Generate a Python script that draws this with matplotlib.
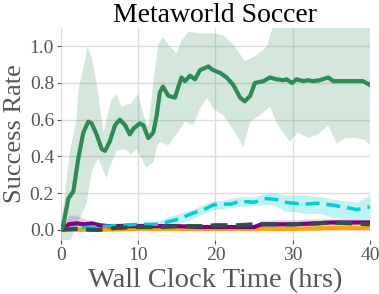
import matplotlib
matplotlib.use("Agg")
import matplotlib.pyplot as plt
import numpy as np

# ── Data ──────────────────────────────────────────────────────────────────────
# Green: mean success rate
green_t = [0.0, 0.3, 0.95, 1.6, 2.24, 2.89, 3.54, 3.97, 4.6, 5.27, 5.7, 6.3, 7.0,
           7.6, 8.3, 8.9, 9.36, 10.2, 10.65, 11.3, 11.95, 12.4, 12.8, 13.2, 13.9,
           14.76, 15.2, 15.6, 16.05, 16.7, 17.35, 18.0, 19.07, 19.7, 20.6, 21.45,
           22.3, 23.2, 23.8, 24.5, 25.1, 26.2, 27.05, 27.9, 28.8, 29.2, 29.9, 30.5,
           31.4, 32.0, 32.65, 33.5, 34.6, 35.25, 36.1, 37.0, 37.8, 39.1, 40.0]
green_mean = [0.0, 0.03, 0.17, 0.21, 0.39, 0.53, 0.59, 0.58, 0.52, 0.44, 0.43,
              0.48, 0.57, 0.60, 0.57, 0.52, 0.55, 0.58, 0.57, 0.50, 0.53, 0.625,
              0.75, 0.78, 0.73, 0.72, 0.78, 0.83, 0.81, 0.84, 0.82, 0.87, 0.89,
              0.87, 0.855, 0.83, 0.79, 0.72, 0.70, 0.73, 0.80, 0.81, 0.83, 0.82,
              0.815, 0.82, 0.80, 0.82, 0.81, 0.815, 0.81, 0.815, 0.83, 0.81, 0.81,
              0.81, 0.81, 0.81, 0.79]
green_up_t = [0.0, 0.5, 1.17, 2.0, 2.24, 3.1, 3.4, 3.97, 4.6, 5.5, 5.9, 6.55, 7.2,
              7.85, 9.1, 10.0, 10.65, 11.3, 11.95, 12.6, 13.2, 14.1, 14.97, 15.6,
              16.5, 18.0, 19.7, 21.0, 22.3, 23.8, 24.9, 26.2, 26.7, 27.3, 28.0, 40.0]
green_up = [0.0, 0.2, 0.43, 0.6, 0.76, 0.92, 1.0, 0.94, 0.8, 0.53, 0.6, 0.71, 0.74,
            0.67, 0.69, 0.74, 0.63, 0.56, 0.8, 1.01, 1.05, 1.0, 0.96, 1.03, 1.08,
            1.07, 1.07, 1.06, 1.01, 0.92, 0.94, 0.98, 1.0, 1.09, 1.15, 1.15]
green_lo_t = [0.0, 1.2, 2.0, 3.3, 4.0, 4.8, 5.9, 6.3, 7.2, 8.3, 9.1, 9.8, 10.9, 11.1,
              12.0, 12.4, 12.8, 13.9, 14.97, 16.05, 17.1, 18.0, 18.9, 19.7, 21.0,
              21.9, 23.0, 23.6, 24.5, 25.8, 27.05, 28.1, 29.6, 30.7, 32.0, 33.3,
              34.6, 35.7, 36.8, 38.1, 39.4, 40.0]
green_lo = [-0.06, -0.06, 0.02, 0.14, 0.32, 0.39, 0.28, 0.34, 0.43, 0.44, 0.41, 0.44,
            0.35, 0.34, 0.37, 0.45, 0.48, 0.46, 0.52, 0.59, 0.57, 0.66, 0.72, 0.66,
            0.625, 0.57, 0.5, 0.45, 0.59, 0.625, 0.67, 0.57, 0.48, 0.53, 0.5, 0.52,
            0.57, 0.47, 0.5, 0.5, 0.49, 0.46]

# Cyan dashed
cyan_t = [0, 2, 4, 6, 8, 10, 12, 12.8, 14, 15.4, 17, 18.5, 19.7, 21, 22, 23.2, 25,
          26.6, 27.9, 29, 30.1, 31.5, 33.5, 35, 36.5, 38.3, 40]
cyan_mean = [0.0, 0.01, 0.015, 0.02, 0.025, 0.03, 0.03, 0.03, 0.045, 0.06, 0.09,
             0.11, 0.135, 0.14, 0.14, 0.155, 0.15, 0.17, 0.165, 0.15, 0.145, 0.14,
             0.145, 0.135, 0.125, 0.11, 0.125]
cyan_up = [0.0, 0.02, 0.03, 0.035, 0.04, 0.04, 0.045, 0.05, 0.07, 0.09, 0.11, 0.14,
           0.16, 0.16, 0.17, 0.18, 0.18, 0.2, 0.2, 0.19, 0.19, 0.19, 0.18, 0.17,
           0.16, 0.15, 0.19]
cyan_lo = [0.0, 0.0, 0.005, 0.01, 0.015, 0.02, 0.02, 0.015, 0.025, 0.035, 0.06, 0.09,
           0.11, 0.115, 0.12, 0.13, 0.13, 0.14, 0.13, 0.1, 0.1, 0.09, 0.09, 0.07,
           0.06, 0.06, 0.06]

# Purple solid
purple_t = [0, 0.5, 1, 2, 3, 4, 5, 6, 8, 10, 12, 15, 18, 20, 23, 25, 26, 28, 30, 33,
            35, 38, 40]
purple_mean = [0.0, 0.01, 0.03, 0.035, 0.03, 0.035, 0.025, 0.02, 0.02, 0.02, 0.02,
               0.02, 0.015, 0.015, 0.015, 0.015, 0.03, 0.03, 0.03, 0.035, 0.04, 0.04,
               0.04]
purple_up = [0.0, 0.04, 0.08, 0.08, 0.06, 0.05, 0.04, 0.035, 0.03, 0.03, 0.03, 0.03,
             0.025, 0.025, 0.025, 0.03, 0.05, 0.055, 0.055, 0.06, 0.06, 0.06, 0.06]
purple_lo = [0.0, 0.0, 0.0, 0.0, 0.005, 0.01, 0.01, 0.01, 0.01, 0.01, 0.01, 0.01,
             0.005, 0.005, 0.005, 0.005, 0.01, 0.01, 0.01, 0.015, 0.02, 0.02, 0.02]

# Dark slate dashed
slate_t = [0, 2, 4, 5, 7, 10, 13, 15, 18, 20, 23, 25, 28, 30, 33, 35, 38, 40]
slate_mean = [0.0, 0.005, 0.0, 0.0, 0.01, 0.015, 0.015, 0.02, 0.02, 0.025, 0.025,
              0.03, 0.03, 0.03, 0.035, 0.04, 0.035, 0.03]

# Orange solid
orange_t = [0, 5, 10, 15, 20, 25, 30, 35, 40]
orange_mean = [0.0, 0.0, 0.005, 0.005, 0.005, 0.005, 0.005, 0.01, 0.01]

# ── Plot ──────────────────────────────────────────────────────────────────────
plt.rcParams["font.family"] = ["Liberation Serif", "DejaVu Serif"]

fig = plt.figure(figsize=(3.79, 2.94), dpi=100)
ax = fig.add_axes([0.161, 0.184, 0.815, 0.721])

GREEN = "#2e8b57"
CYAN = "#00ced1"
PURPLE = "#800080"
SLATE = "#2f4f4f"
ORANGE = "#ffa500"

ax.fill(green_up_t + green_lo_t[::-1], green_up + green_lo[::-1],
        color=GREEN, alpha=0.2, lw=0)
ax.fill_between(cyan_t, cyan_lo, cyan_up, color=CYAN, alpha=0.25, lw=0)
ax.fill_between(purple_t, purple_lo, purple_up, color=PURPLE, alpha=0.18, lw=0)

ax.plot(orange_t, orange_mean, color=ORANGE, lw=3)
ax.plot(purple_t, purple_mean, color=PURPLE, lw=3)
ax.plot(cyan_t, cyan_mean, color=CYAN, lw=2.5, ls=(0, (4, 2)))
ax.plot(slate_t, slate_mean, color=SLATE, lw=3, ls=(0, (4, 2)))
ax.plot(green_t, green_mean, color=GREEN, lw=3)

ax.set_xlim(0, 40)
ax.set_ylim(-0.055, 1.1)
ax.set_xticks([0, 10, 20, 30, 40])
ax.set_yticks([0.0, 0.2, 0.4, 0.6, 0.8, 1.0])
ax.set_yticklabels(["0.0", "0.2", "0.4", "0.6", "0.8", "1.0"])
ax.grid(True, color="#dddddd", lw=1)
ax.set_axisbelow(True)
for s in ax.spines.values():
    s.set_visible(False)
ax.tick_params(colors="#555555", labelsize=14, length=3, width=0.8, pad=2)

ax.set_title("Metaworld Soccer", fontsize=20, color="black", pad=4)
ax.set_xlabel("Wall Clock Time (hrs)", fontsize=20.5, color="#555555", labelpad=3)
ax.set_ylabel("Success Rate", fontsize=19, color="#555555", labelpad=3)

fig.savefig("out.png", dpi=100)
